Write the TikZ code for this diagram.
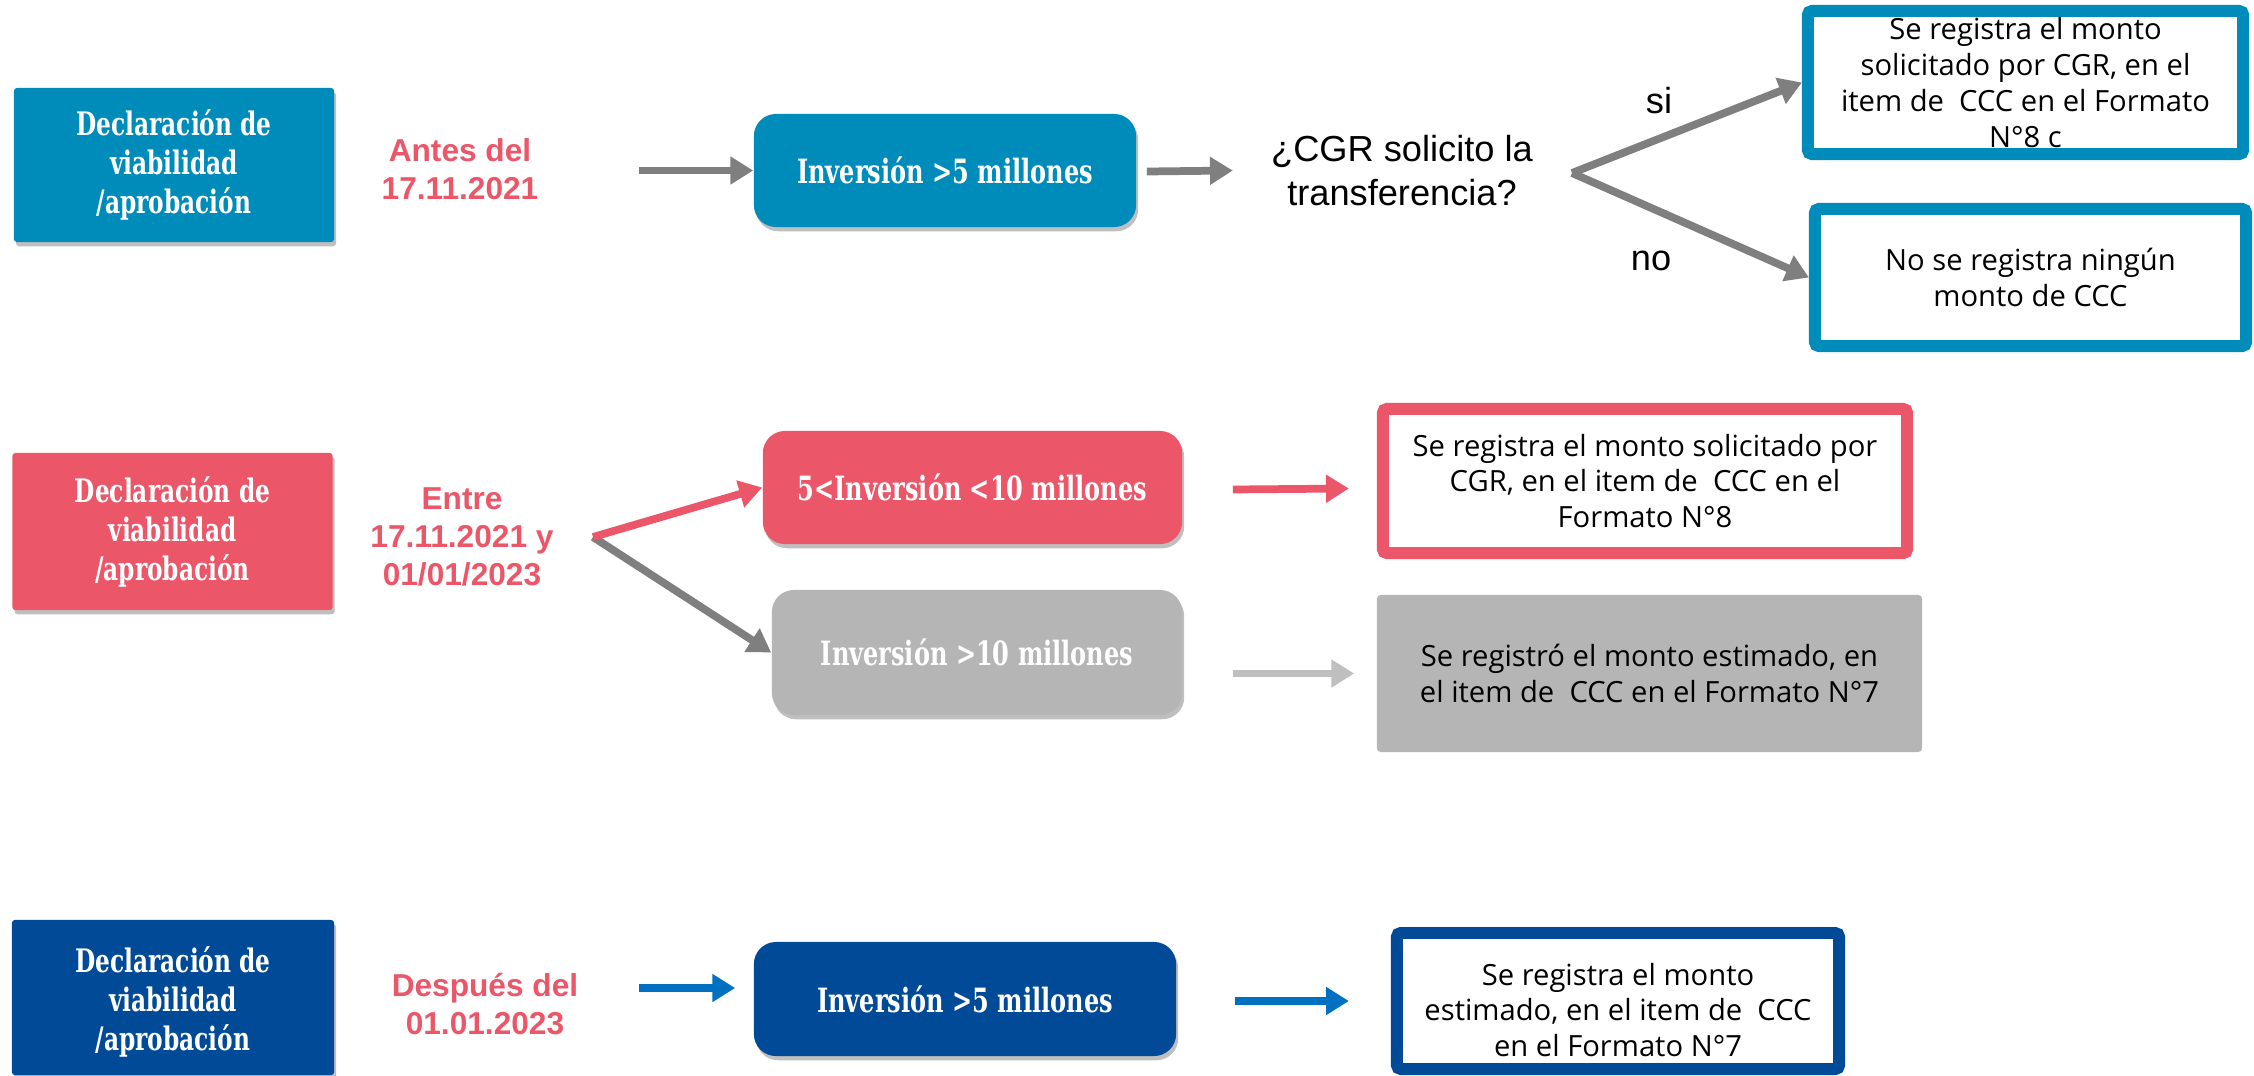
\documentclass[tikz,border=0pt]{standalone}
\usepackage{fontspec}
\setmainfont{Liberation Sans}
\newfontfamily\slab{DejaVu Serif}[FakeStretch=0.72]
\newfontfamily\bodyf{Open Sans}
\usetikzlibrary{arrows.meta,shadows,calc}
\definecolor{tealc}{HTML}{008CBA}
\definecolor{pinkc}{HTML}{EB5769}
\definecolor{navyc}{HTML}{004A98}
\definecolor{grayarr}{HTML}{7F7F7F}
\definecolor{grayboxc}{HTML}{B5B5B6}
\definecolor{lightarr}{HTML}{BFBFBF}
\definecolor{bluearr}{HTML}{0070C0}
\tikzset{
  shad/.style={drop shadow={shadow xshift=0.6pt, shadow yshift=-1.2pt, opacity=0.25, fill=black}},
  leftbox/.style={shad, minimum width=3.2cm, minimum height=1.54cm, rounded corners=0.03cm,
    text=white, align=center, inner sep=0pt,
    font=\slab\bfseries\fontsize{9.2}{11.1}\selectfont},
  invbox/.style={shad, rounded corners=0.22cm, text=white, align=center, inner sep=0pt,
    font=\slab\bfseries\fontsize{9.5}{11}\selectfont},
  resbox/.style={line width=3.4pt, rounded corners=0.04cm, fill=white, align=center, inner sep=0pt,
    font=\bodyf\fontsize{8.3}{10.2}\selectfont},
  restext/.style={align=center, inner sep=0pt, font=\bodyf\fontsize{8.3}{10.2}\selectfont},
  datetext/.style={text=pinkc, align=center, inner sep=0pt,
    font=\bfseries\fontsize{9.0}{10.7}\selectfont},
  qtext/.style={align=center, inner sep=0pt, font=\fontsize{10.3}{12.5}\selectfont},
  arr/.style={line width=2.2pt, -{Triangle[length=6.5pt,width=7.6pt]}},
}
\begin{document}
\begin{tikzpicture}[x=0.01cm, y=-0.01cm]
\useasboundingbox (0,0) rectangle (2254,1075);
\fill[white] (0,0) rectangle (2254,1075);

% ---------- Row 1 ----------
\node[leftbox, fill=tealc] (L1) at (174,165) {Declaración de\\viabilidad\\/aprobación};
\node[datetext] (T1) at (460,169) {Antes del\\17.11.2021};
\node[invbox, fill=tealc, minimum width=3.82cm, minimum height=1.13cm] (I1) at (945,170.5) {Inversión >5 millones};
\node[qtext] (Q) at (1402,171) {¿CGR solicito la\\transferencia?};
\coordinate (s1) at (1572,173);
\node[resbox, draw=tealc, minimum width=4.35cm, minimum height=1.43cm] (R1) at (2025.5,82.5)
  {Se registra el monto\\solicitado por CGR, en el\\item de\ \ CCC en el Formato\\N°8 c};
\node[resbox, draw=tealc, minimum width=4.31cm, minimum height=1.37cm] (R2) at (2030.5,277.5)
  {No se registra ningún\\monto de CCC};
\node[qtext] (si) at (1659,101) {si};
\node[qtext] (no) at (1651,261) {no};

\draw[arr, grayarr] ($(I1.west)+(-114,0)$) -- (I1.west);
\draw[arr, grayarr] ($(I1.east)+(10,1)$) -- ($(I1.east)+(96,0)$);
\draw[arr, grayarr] (s1) -- (R1.west);
\draw[arr, grayarr] (s1) -- (R2.west);

% ---------- Row 2 ----------
\node[leftbox, fill=pinkc, minimum height=1.57cm] (L2) at (172.5,531.5) {Declaración de\\viabilidad\\/aprobación};
\node[datetext] (T2) at (462,537) {Entre\\17.11.2021 y\\01/01/2023};
\coordinate (s2) at (593,537);
\node[invbox, fill=pinkc, minimum width=4.19cm, minimum height=1.13cm] (I2) at (972.5,487.5) {5<Inversión <10 millones};
\node[invbox, fill=grayboxc, minimum width=4.10cm, minimum height=1.25cm] (I3) at (977,652.5) {Inversión >10 millones};
\node[resbox, draw=pinkc, minimum width=5.24cm, minimum height=1.44cm] (R3) at (1645,481)
  {Se registra el monto solicitado por\\CGR, en el item de\ \ CCC en el\\Formato N°8};
\node[restext, fill=grayboxc, minimum width=5.45cm, minimum height=1.57cm, rounded corners=0.04cm] (R4) at (1649.5,673.5)
  {Se registró el monto estimado, en\\el item de\ \ CCC en el Formato N°7};

\draw[arr, grayarr] (s2) -- (I3.west);
\draw[arr, pinkc] (s2) -- (I2.west);
\draw[arr, pinkc] ($(I2.east)+(50,2)$) -- ($(I2.east -| R3.west)+(-28,1)$);
\draw[arr, lightarr] ($(I3.east |- R4.west)+(50,0)$) -- ($(R4.west)+(-22,0)$);

% ---------- Row 3 ----------
\node[leftbox, fill=navyc, minimum width=3.22cm, minimum height=1.55cm] (L3) at (173,997.5) {};
\node[align=center, inner sep=0pt, text=white, font=\slab\bfseries\fontsize{9.2}{11.1}\selectfont] (L3t) at (173,1002) {Declaración de\\viabilidad\\/aprobación};
\node[datetext] (T3) at (485,1004) {Después del\\01.01.2023};
\node[invbox, fill=navyc, minimum width=4.22cm, minimum height=1.14cm] (I4) at (965,999) {Inversión >5 millones};
\node[resbox, draw=navyc, minimum width=4.42cm, minimum height=1.36cm] (R5) at (1618,1001) {};
\node[restext] (R5t) at (1618,1010) {Se registra el monto\\estimado, en el item de\ \ CCC\\en el Formato N°7};

\draw[arr, bluearr] ($(I4.west)+(-114,-11)$) -- ($(I4.west)+(-18,-11)$);
\draw[arr, bluearr] ($(I4.east)+(58,2)$) -- ($(R5.west)+(-42,0)$);
\end{tikzpicture}
\end{document}
